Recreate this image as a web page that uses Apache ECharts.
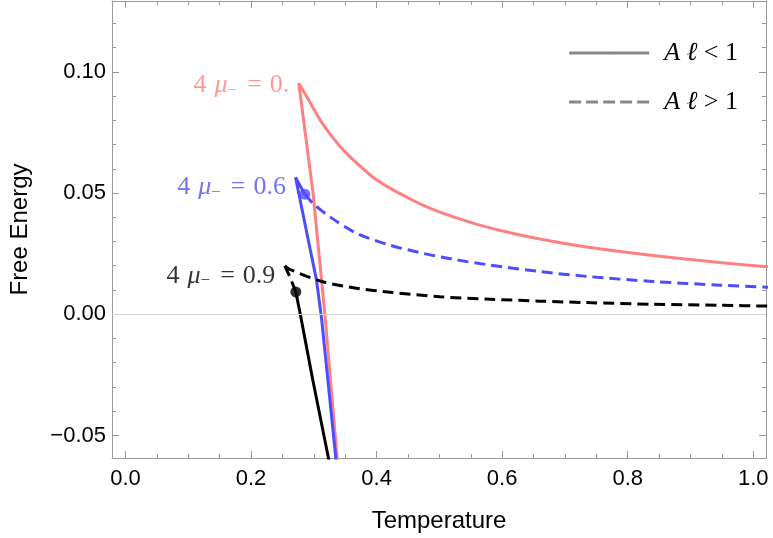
<!DOCTYPE html>
<html>
<head>
    <meta charset="utf-8">
    <title>free energy</title>
    <script src="https://cdn.jsdelivr.net/npm/echarts@6/dist/echarts.min.js"></script>
</head>
<body style="margin:0">
    <div id="main" style="width:773px;height:538px;"></div>
    <script type="text/javascript">
        var myChart = echarts.init(document.getElementById('main'));

        /*--------------------- data: [Temperature, Free Energy] ---------------------*/
        // 4 mu = 0. (red), both branches solid
        var redUpper = [[0.2761, 0.0953], [0.2893, 0.0895], [0.3144, 0.0784], [0.3415, 0.0693], [0.3685, 0.0623],
            [0.3943, 0.0565], [0.4211, 0.0520], [0.4482, 0.0483], [0.4737, 0.0450], [0.5008, 0.0421],
            [0.5534, 0.0376], [0.6075, 0.0339], [0.6601, 0.0310], [0.7350, 0.0277], [0.8402, 0.0242],
            [0.9465, 0.0213], [1.0214, 0.0196], [1.03, 0.0194]];
        var redLower = [[0.2761, 0.0953], [0.2989, 0.0498], [0.3175, 0.0004], [0.3372, -0.0593], [0.3385, -0.065]];

        // 4 mu = 0.6 (blue)
        var blueUpperSolid = [[0.2709, 0.0564], [0.2857, 0.0495]];
        var blueUpperDashed = [[0.2857, 0.0495], [0.2989, 0.0457], [0.3255, 0.0402], [0.3681, 0.0334], [0.4211, 0.0285],
            [0.4742, 0.0251], [0.5274, 0.0224], [0.5805, 0.0203], [0.6601, 0.0176], [0.7350, 0.0156],
            [0.8402, 0.0135], [0.9469, 0.0120], [1.0234, 0.0111], [1.03, 0.0110]];
        var blueLower = [[0.2709, 0.0564], [0.2977, 0.0224], [0.3043, 0.0141], [0.3123, -0.0016], [0.3351, -0.0593], [0.3365, -0.065]];

        // 4 mu = 0.9 (black)
        var blackUpperDashed = [[0.2538, 0.0199], [0.2617, 0.0185], [0.3144, 0.0134], [0.3681, 0.0107], [0.4211, 0.0091],
            [0.5008, 0.0072], [0.5805, 0.0062], [0.6601, 0.0054], [0.7350, 0.0048], [0.8402, 0.0041],
            [0.9469, 0.0037], [1.0214, 0.0034], [1.03, 0.0034]];
        var blackLowerDashed = [[0.2538, 0.0199], [0.2617, 0.0155], [0.2714, 0.0092]];
        var blackLower = [[0.2714, 0.0092], [0.2785, 0.0000], [0.2984, -0.0271], [0.3239, -0.0600], [0.3255, -0.065]];

        // junction dots and the cusps that carry the labels
        var dots = [[0.2857, 0.0495], [0.2714, 0.0092]];
        var cusps = [[0.2761, 0.0953], [0.2709, 0.0564], [0.2538, 0.0199]];
        var cuspValues = ['0.', '0.6', '0.9'];
        var legendNames = ['A ℓ < 1', 'A ℓ > 1'];

        /*--------------------- style ---------------------*/
        var red = '#ff8080';
        var blue = '#4d4dff';
        var black = '#000000';
        var frame = '#999999';
        var sans = '"Liberation Sans", Arial, sans-serif';
        var serif = '"Liberation Serif", "Times New Roman", serif';
        var dash = [11, 6];
        var cuspColors = [red, blue, black];
        var cuspOffsets = [[0, 2], [0, 10], [0, 10]];

        function isMajor(v, step) {
            return Math.abs(v / step - Math.round(v / step)) < 1e-6;
        }

        function curve(name, data, color, type, smooth) {
            return {
                name: name,
                type: 'line',
                data: data,
                smooth: smooth || false,
                showSymbol: false,
                symbol: 'none',
                silent: true,
                lineStyle: { color: color, width: 3, type: type },
                z: 3
            };
        }

        var labelRich = {
            n: { fontFamily: serif, fontSize: 26 },
            g: { fontFamily: serif, fontSize: 26, padding: [0, 0, 0, 8] },
            i: { fontFamily: serif, fontSize: 26, fontStyle: 'italic' },
            s: { fontFamily: serif, fontSize: 17, padding: [10, 0, 0, 0] },
            e: { fontFamily: serif, fontSize: 26, padding: [0, 8, 0, 10] }
        };

        var cuspLabelData = cusps.map(function (p, k) {
            return {
                value: p,
                label: {
                    show: true,
                    position: 'left',
                    distance: 9,
                    offset: cuspOffsets[k],
                    color: cuspColors[k],
                    formatter: '{n|4}{g|}{i|μ}{s|−}{e|=}{n|' + cuspValues[k] + '}',
                    rich: labelRich
                }
            };
        });

        function xAxisCfg(top) {
            return {
                type: 'value',
                position: top ? 'top' : 'bottom',
                min: -0.0214,
                max: 1.0202,
                splitNumber: 5,
                name: top ? '' : 'Temperature',
                nameLocation: 'middle',
                nameGap: 51,
                nameTextStyle: { fontFamily: sans, fontSize: 24, color: '#000' },
                axisLine: { onZero: false, lineStyle: { color: frame, width: 1 } },
                axisTick: { inside: true, length: 7, lineStyle: { color: frame } },
                minorTick: { show: true, splitNumber: 4, length: 4, lineStyle: { color: frame } },
                splitLine: { show: false },
                axisLabel: {
                    show: !top,
                    margin: 10,
                    fontFamily: sans,
                    fontSize: 22,
                    color: '#000',
                    formatter: function (v) {
                        return isMajor(v, 0.2) ? Math.abs(v).toFixed(1) : '';
                    }
                }
            };
        }

        function yAxisCfg(right) {
            return {
                type: 'value',
                position: right ? 'right' : 'left',
                min: -0.0593,
                max: 0.1292,
                splitNumber: 4,
                name: right ? '' : 'Free Energy',
                nameLocation: 'middle',
                nameGap: 80,
                nameTextStyle: { fontFamily: sans, fontSize: 24, color: '#000' },
                axisLine: { onZero: false, lineStyle: { color: frame, width: 1 } },
                axisTick: { inside: true, length: 7, lineStyle: { color: frame } },
                minorTick: { show: true, splitNumber: 5, length: 4, lineStyle: { color: frame } },
                splitLine: { show: false },
                axisLabel: {
                    show: !right,
                    margin: 6,
                    fontFamily: sans,
                    fontSize: 22,
                    color: '#000',
                    formatter: function (v) {
                        if (!isMajor(v, 0.05)) return '';
                        return (v < -1e-9 ? '\u2212' : '') + Math.abs(v).toFixed(2);
                    }
                }
            };
        }

        var option = {
            backgroundColor: '#ffffff',
            animation: false,
            grid: { left: 112, right: 7, top: 1, bottom: 80, containLabel: false, outerBoundsMode: 'none' },
            xAxis: [xAxisCfg(false), xAxisCfg(true)],
            yAxis: [yAxisCfg(false), yAxisCfg(true)],
            legend: {
                data: legendNames,
                orient: 'vertical',
                right: 30,
                top: 35,
                itemWidth: 80,
                itemHeight: 3,
                itemGap: 23,
                lineStyle: { width: 3, color: '#888' },
                textStyle: {
                    color: '#000',
                    fontFamily: serif,
                    fontSize: 26,
                    rich: {
                        i: { fontFamily: serif, fontSize: 26, fontStyle: 'italic', padding: [0, 0, 0, 10] },
                        n: { fontFamily: serif, fontSize: 26 }
                    }
                },
                formatter: function (name) {
                    return '{i|' + name.slice(0, 3) + '}{n|' + name.slice(3) + '}';
                }
            },
            series: [
                {
                    name: 'zero',
                    type: 'line',
                    data: [],
                    z: 1,
                    markLine: {
                        silent: true,
                        symbol: 'none',
                        label: { show: false },
                        lineStyle: { color: '#d0d0d0', width: 1, type: 'solid' },
                        data: [{ yAxis: 0 }]
                    }
                },
                { name: legendNames[0], type: 'line', data: [], symbol: 'none', lineStyle: { color: '#888', width: 3, type: 'solid' }, itemStyle: { color: '#888' } },
                { name: legendNames[1], type: 'line', data: [], symbol: 'none', lineStyle: { color: '#888', width: 3, type: [12, 5] }, itemStyle: { color: '#888' } },
                curve('red upper', redUpper, red, 'solid', 0.3),
                curve('red lower', redLower, red, 'solid'),
                curve('blue upper solid', blueUpperSolid, blue, 'solid'),
                curve('blue upper dashed', blueUpperDashed, blue, dash, 0.3),
                curve('blue lower', blueLower, blue, 'solid'),
                curve('black upper dashed', blackUpperDashed, black, dash, 0.3),
                curve('black lower dashed', blackLowerDashed, black, dash),
                curve('black lower', blackLower, black, 'solid'),
                {
                    name: 'dots',
                    type: 'scatter',
                    silent: true,
                    symbolSize: 11,
                    z: 4,
                    data: [
                        { value: dots[0], itemStyle: { color: blue } },
                        { value: dots[1], itemStyle: { color: black } }
                    ]
                },
                {
                    name: 'cusp labels',
                    type: 'scatter',
                    silent: true,
                    symbolSize: 1,
                    itemStyle: { color: 'rgba(0,0,0,0)' },
                    z: 5,
                    data: cuspLabelData
                }
            ]
        };
        myChart.setOption(option);
    </script>
</body>
</html>
